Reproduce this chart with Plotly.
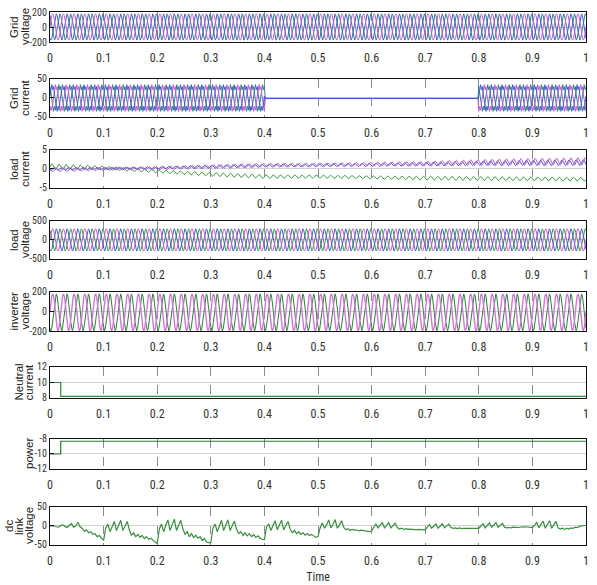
import numpy as np
import plotly.graph_objects as go
from plotly.subplots import make_subplots

# ---------------- data ----------------
samples_per_second = 600          # 12 samples per 20 ms cycle
phase_shift_samples = 4           # 120 degrees

grid_voltage_cycle = [0, 88, 152, 175, 152, 88, 0, -88, -152, -175, -152, -88]
grid_current_cycle = [5, 25, 35, 22, 30, 10, -8, -28, -35, -22, -32, -12]
grid_current_off_window = [0.4, 0.8]
grid_current_off_value = [-1.0, -1.5, -1.2]
load_voltage_cycle = [0, 145, 251, 295, 251, 145, 0, -145, -251, -290, -251, -145]
inverter_voltage_cycle = [0, 92, 158, 180, 158, 92, 0, -100, -172, -198, -172, -100]

load_current_ripple_cycle = [0, 0.7, 1, 0.7, 0, -0.7, -1, -0.7]
load_current_knots_t = [0, 0.1, 0.2, 0.3, 0.4, 0.5, 0.6, 0.7, 0.8, 0.9, 1.0]
load_current_trend_magenta = [-0.3, 0.0, 0.2, 0.6, 1.0, 1.1, 1.3, 1.4, 1.7, 1.9, 2.0]
load_current_trend_blue = [0.0, 0.1, 0.3, 0.6, 0.9, 1.0, 1.1, 1.3, 1.5, 1.6, 1.7]
load_current_trend_green = [0.6, 0.3, -0.6, -1.4, -2.0, -2.0, -2.2, -2.4, -2.5, -2.6, -2.7]
load_current_amp_magenta = [0.5, 0.4, 0.4, 0.5, 0.5, 0.4, 0.5, 0.6, 0.8, 0.9, 1.0]
load_current_amp_blue = [0.4, 0.3, 0.3, 0.4, 0.4, 0.4, 0.4, 0.5, 0.6, 0.7, 0.8]
load_current_amp_green = [0.8, 0.5, 0.4, 0.5, 0.5, 0.4, 0.4, 0.5, 0.5, 0.5, 0.5]

neutral_current_t = [0, 0.02, 0.02, 1.0]
neutral_current_values = [10, 10, 8.2, 8.2]
power_t = [0, 0.02, 0.02, 1.0]
power_values = [-10, -10, -8.3, -8.3]

dc_link_step = 0.004
dc_link_seg0 = [0, 0, 0, -2, -3, 1, 3, -1, -4, 2, 6, -3, 0, 10, -2, -6, -14, -10, -18, -15, -22, -20, -28, -25, -33]
dc_link_seg1 = [-38, -5, 5, -15, 0, 12, -12, 2, 15, -12, 2, 12, -10, -25, -18, -28, -22, -30, -25, -33, -28, -35, -32, -38, -42]
dc_link_seg2 = [-46, -8, 5, -15, 2, 16, -12, 3, 18, -12, 2, 15, -8, -22, -15, -28, -20, -30, -24, -32, -28, -38, -33, -42, -44]
dc_link_seg3 = [-44, -5, 5, -15, 0, 15, -12, 2, 16, -12, 0, 13, -8, -20, -15, -25, -18, -26, -20, -28, -23, -30, -26, -32, -35]
dc_link_seg4 = [-36, -3, 6, -12, 2, 14, -10, 3, 15, -10, 2, 12, -8, -18, -12, -20, -15, -22, -18, -24, -20, -25, -22, -27, -30]
dc_link_seg5 = [-28, -5, 8, -6, 3, 16, -5, 4, 17, -6, 3, 14, -4, -10, -7, -12, -9, -11, -10, -13, -11, -12, -13, -14, -15]
dc_link_seg6 = [-14, -2, 6, -5, 2, 9, -5, 2, 9, -5, 1, 7, -4, -8, -6, -9, -7, -9, -8, -9, -8, -10, -9, -10, -10]
dc_link_seg7 = [-10, -2, 4, -6, 0, 5, -6, 0, 6, -5, 0, 5, -4, -6, -5, -7, -5, -7, -6, -6, -5, -6, -5, -5, -6]
dc_link_seg8 = [-6, 0, 6, -5, 1, 8, -4, 2, 9, -4, 1, 7, -3, -5, -4, -5, -3, -4, -3, -4, -2, -3, -2, -3, -3]
dc_link_seg9 = [-4, 2, 10, -5, 3, 13, -6, 3, 14, -6, 2, 12, -5, -8, -6, -9, -6, -8, -5, -6, -3, -4, -1, 0, 3]
dc_link_final = [2]

y_title_lines = [["Grid", "voltage"], ["Grid", "current"], ["load", "current"], ["load", "voltage"],
                 ["inverter", "voltage"], ["Neutral", "current"], ["power"], ["dc", "link", "voltage"]]
y_ranges = [[-200, 200], [-50, 50], [-5, 5], [-500, 500], [-200, 200], [8, 12], [-12, -8], [-50, 50]]
y_ticks = [[-200, 0, 200], [-50, 0, 50], [-5, 0, 5], [-500, 0, 500], [-200, 0, 200],
           [8, 10, 12], [-12, -10, -8], [-50, 0, 50]]
x_ticks = [0, 0.1, 0.2, 0.3, 0.4, 0.5, 0.6, 0.7, 0.8, 0.9, 1]

# ---------------- build series ----------------
n = samples_per_second + 1
t = np.arange(n) / samples_per_second


def tiled(cycle, shift=0):
    c = np.roll(np.array(cycle, dtype=float), shift)
    reps = n // len(c) + 2
    return np.tile(c, reps)[:n]


GREEN = "#3d9b45"
TEAL = "#2f7f86"
BLUE = "#3f5fc8"
MAGENTA = "#c45ad0"

fig = make_subplots(rows=8, cols=1)

# 1 grid voltage
for color, sh in [(TEAL, 2 * phase_shift_samples), (BLUE, phase_shift_samples), (MAGENTA, 0)]:
    fig.add_trace(go.Scatter(x=t, y=tiled(grid_voltage_cycle, sh), mode="lines",
                             line=dict(color=color, width=1)), row=1, col=1)

# 2 grid current
for k, (color, sh) in enumerate([(TEAL, 2 * phase_shift_samples), (MAGENTA, phase_shift_samples), (BLUE, 0)]):
    y = tiled(grid_current_cycle, sh)
    mask = (t > grid_current_off_window[0]) & (t < grid_current_off_window[1])
    y[mask] = grid_current_off_value[k]
    fig.add_trace(go.Scatter(x=t, y=y, mode="lines", line=dict(color=color, width=1)), row=2, col=1)

# 3 load current
for color, trend, amp, sh in [
    (GREEN, load_current_trend_green, load_current_amp_green, 0),
    (BLUE, load_current_trend_blue, load_current_amp_blue, 3),
    (MAGENTA, load_current_trend_magenta, load_current_amp_magenta, 5),
]:
    y = np.interp(t, load_current_knots_t, trend) + np.interp(t, load_current_knots_t, amp) * tiled(load_current_ripple_cycle, sh)
    fig.add_trace(go.Scatter(x=t, y=y, mode="lines", line=dict(color=color, width=1)), row=3, col=1)

# 4 load voltage
for color, sh in [(GREEN, 2 * phase_shift_samples), (BLUE, phase_shift_samples), (MAGENTA, 0)]:
    fig.add_trace(go.Scatter(x=t, y=tiled(load_voltage_cycle, sh), mode="lines",
                             line=dict(color=color, width=1)), row=4, col=1)

# 5 inverter voltage
fig.add_trace(go.Scatter(x=t, y=tiled(inverter_voltage_cycle, phase_shift_samples), mode="lines",
                         line=dict(color="#2f7f3a", width=1)), row=5, col=1)
fig.add_trace(go.Scatter(x=t, y=tiled(inverter_voltage_cycle, 0), mode="lines",
                         line=dict(color="#d078d8", width=1.4)), row=5, col=1)

# 6 neutral current
fig.add_trace(go.Scatter(x=neutral_current_t, y=neutral_current_values, mode="lines",
                         line=dict(color="#2e8b3a", width=1.2)), row=6, col=1)

# 7 power
fig.add_trace(go.Scatter(x=power_t, y=power_values, mode="lines",
                         line=dict(color="#2a7a34", width=1.2)), row=7, col=1)

# 8 dc link voltage
dc_vals = (dc_link_seg0 + dc_link_seg1 + dc_link_seg2 + dc_link_seg3 + dc_link_seg4 +
           dc_link_seg5 + dc_link_seg6 + dc_link_seg7 + dc_link_seg8 + dc_link_seg9 + dc_link_final)
dc_t = np.arange(len(dc_vals)) * dc_link_step
fig.add_trace(go.Scatter(x=dc_t, y=dc_vals, mode="lines",
                         line=dict(color="#3a8f3f", width=1.2)), row=8, col=1)

# ---------------- layout ----------------
PLOT_LEFT_PX, PLOT_RIGHT_PX = 50, 586
domains = [[0.9437, 1.0], [0.8030, 0.8743], [0.6698, 0.7411], [0.5366, 0.6079],
           [0.4015, 0.4747], [0.2758, 0.3340], [0.1426, 0.1989], [0.0, 0.0713]]
title_line_px = [[14, 25], [14, 25], [14, 25], [14, 25], [14, 25], [19, 29], [29], [9, 19, 29]]

tick_font = dict(family="Roboto Condensed, DejaVu Sans Condensed, sans-serif", size=12, color="#333")
title_font = dict(family="Liberation Sans, Arial, sans-serif", size=11.5, color="#222")

for i in range(8):
    xa = "xaxis" if i == 0 else f"xaxis{i + 1}"
    ya = "yaxis" if i == 0 else f"yaxis{i + 1}"
    fig.layout[ya].update(
        domain=domains[i], range=y_ranges[i], tickvals=y_ticks[i],
        ticktext=[str(v) for v in y_ticks[i]],
        showgrid=True, gridcolor="#d0d0d0", gridwidth=1, zeroline=False,
        showline=True, linecolor="#111", linewidth=1.3, mirror=True,
        ticks="inside", ticklen=4, tickcolor="#111",
        tickfont=dict(tick_font, size=10), automargin=False,
    )
    fig.layout[xa].update(
        range=[0, 1], tickvals=x_ticks, ticktext=[str(v) for v in x_ticks],
        showgrid=True, gridcolor="#8a8a8a", gridwidth=1, griddash="dash", zeroline=False,
        showline=True, linecolor="#111", linewidth=1.3, mirror=True,
        ticks="", tickfont=tick_font, automargin=False, ticklabelstandoff=4,
        anchor="y" if i == 0 else f"y{i + 1}",
    )
    ymid = (domains[i][0] + domains[i][1]) / 2
    for line_text, px in zip(y_title_lines[i], title_line_px[i]):
        fig.add_annotation(
            text=line_text, xref="paper", yref="paper",
            x=(px - PLOT_LEFT_PX) / (PLOT_RIGHT_PX - PLOT_LEFT_PX), y=ymid,
            xanchor="center", yanchor="middle", textangle=-90, showarrow=False,
            font=title_font,
        )

fig.layout.xaxis8.title = dict(text="Time", font=dict(tick_font, size=12), standoff=6)

fig.update_layout(
    width=597, height=585,
    margin=dict(l=50, r=11, t=12, b=40),
    paper_bgcolor="white", plot_bgcolor="white",
    showlegend=False,
)

fig.write_html(
    "out.html",
    config={"displayModeBar": False},
    post_script="document.body.style.margin='0';document.body.style.overflow='hidden';",
)
